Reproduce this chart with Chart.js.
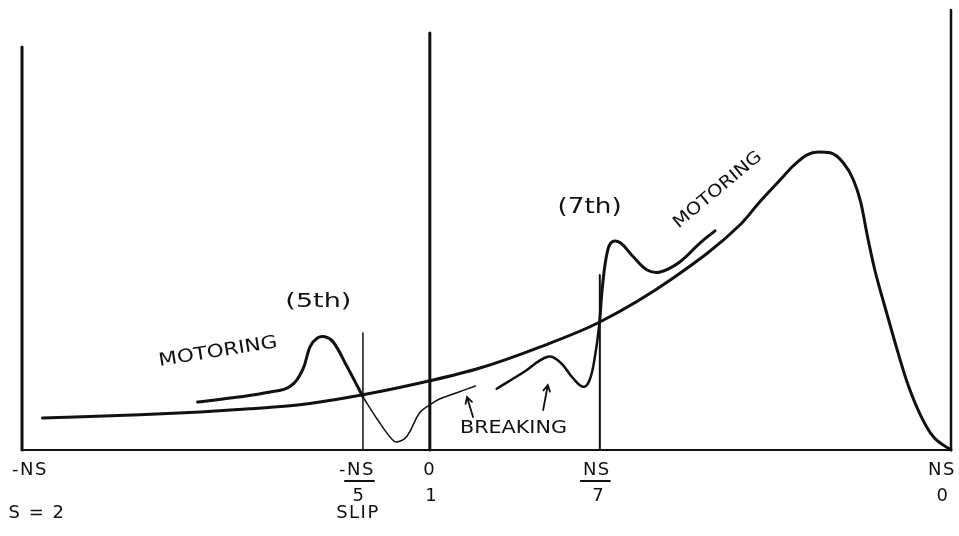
<!DOCTYPE html>
<html>
<head>
<meta charset="utf-8">
<script src="https://cdn.jsdelivr.net/npm/chart.js@4.4.1/dist/chart.umd.min.js"></script>
<style>
  html, body { margin: 0; padding: 0; background: #fff; }
  #wrap { width: 959px; height: 536px; position: relative; }
</style>
</head>
<body>
<div id="wrap"><canvas id="torque"></canvas></div>
<script>
  "use strict";

  // speed axis: 0 = -NS, 100 = +NS (the sketch is not to scale)
  var tickPos = [0, 36.7, 43.9, 62.2, 100];
  var tickTop = ["-NS", "-NS", "0", "NS", "NS"];
  var tickBottom = ["", "5", "1", "7", "0"];
  var lineTop = [100.75, 29.25, 104.25, 43.75, 110];

  // fundamental torque curve
  var mainX = [2.2, 12.7, 19.2, 24.5, 29.9, 36.7, 43.9, 49.3, 55.8, 62.2, 70.1, 77.3, 79.4, 81.6, 83.0, 84.5, 85.7, 87.0, 88.4, 89.5, 90.3, 91.0, 91.8, 92.8, 93.9, 95.3, 96.7, 98.1, 100];
  var mainY = [8, 8.8, 9.5, 10.3, 11.3, 13.8, 17.3, 20.5, 25.8, 32, 43, 56.3, 62, 67.5, 71, 73.8, 74.5, 74.3, 71.8, 67.5, 61.8, 53.5, 45, 36.5, 27.5, 16.8, 8.8, 3.3, 0];

  // 5th harmonic
  var fifthMotX = [18.9, 23.5, 26.7, 28.8, 30.2, 31.0, 31.8, 32.6, 33.5, 35.0, 36.7];
  var fifthMotY = [12, 13.3, 14.5, 15.8, 20, 25.8, 28, 28.3, 27, 20.8, 13.3];
  var fifthBrkX = [36.7, 37.1, 38.5, 39.9, 40.4, 41.4, 42.8, 43.9, 45.0, 46.8, 48.8];
  var fifthBrkY = [13.3, 11.8, 6.8, 2.5, 2, 3.3, 9.3, 11.3, 12.8, 14.3, 16];

  // 7th harmonic
  var seventhBrkX = [51.1, 53.9, 56.6, 57.9, 59.3, 60.4, 61.1, 61.7, 62.2];
  var seventhBrkY = [15.3, 19.3, 23.3, 22, 18, 15.8, 17.5, 23.8, 32.5];
  var seventhMotX = [62.2, 62.5, 63.0, 63.5, 64.4, 65.8, 67.3, 68.7, 70.8, 73.0, 74.6];
  var seventhMotY = [32.5, 41.3, 49.5, 52, 51.8, 48.3, 45, 44.5, 47, 51.8, 54.8];

  var ink = "#111";

  function pts(xs, ys) {
    return xs.map(function (x, i) {
      return { x: x, y: ys[i] };
    });
  }

  // smooth: 0 = straight, 1 = bezier, 2 = monotone
  function stroke(data, width, smooth) {
    return {
      data: data,
      borderColor: ink,
      borderWidth: width,
      pointRadius: 0,
      fill: false,
      clip: false,
      tension: smooth === 1 ? 0.4 : 0,
      cubicInterpolationMode: smooth === 2 ? "monotone" : "default",
      borderCapStyle: "round",
      borderJoinStyle: "round",
    };
  }

  var datasets = [];
  // axis frame and the reference speed lines
  datasets.push(stroke([{ x: 0, y: 0 }, { x: 100, y: 0 }], 2, 0));
  var lineWidths = [3, 1.5, 3, 2, 2.5];
  tickPos.forEach(function (p, i) {
    datasets.push(stroke([{ x: p, y: 0 }, { x: p, y: lineTop[i] }], lineWidths[i], 0));
  });
  datasets.push(stroke(pts(mainX, mainY), 3, 2));
  datasets.push(stroke(pts(fifthMotX, fifthMotY), 3, 1));
  datasets.push(stroke(pts(fifthBrkX, fifthBrkY), 1.5, 1));
  datasets.push(stroke(pts(seventhBrkX, seventhBrkY), 2.5, 1));
  datasets.push(stroke(pts(seventhMotX, seventhMotY), 3, 1));

  // notes written on the sketch (w = hand-written width in px)
  var notes = [
    { text: "(5th)", x: 31.9, y: 37, rot: 0, size: 20, w: 66 },
    { text: "MOTORING", x: 21.1, y: 24.5, rot: -9, size: 18, w: 120 },
    { text: "(7th)", x: 61.1, y: 60.5, rot: 0, size: 21, w: 64 },
    { text: "MOTORING", x: 74.9, y: 65, rot: -40, size: 17, w: 110 },
    { text: "BREAKING", x: 52.9, y: 5.3, rot: 0, size: 18, w: 107 },
  ];
  var arrows = [
    { x0: 48.55, y0: 8.25, x1: 47.9, y1: 13.25 },
    { x0: 56.1, y0: 10, x1: 56.6, y1: 16.25 },
  ];

  var sketchLabels = {
    id: "sketchLabels",
    afterDatasetsDraw: function (chart) {
      var ctx = chart.ctx;
      var xs = chart.scales.x;
      var ys = chart.scales.y;
      ctx.save();
      ctx.fillStyle = ink;
      ctx.strokeStyle = ink;
      ctx.textAlign = "center";
      ctx.textBaseline = "middle";

      notes.forEach(function (n) {
        ctx.save();
        ctx.font = n.size + "px 'DejaVu Sans'";
        var sx = n.w / ctx.measureText(n.text).width;
        ctx.translate(xs.getPixelForValue(n.x), ys.getPixelForValue(n.y));
        ctx.rotate((n.rot * Math.PI) / 180);
        ctx.scale(sx, 1);
        ctx.fillText(n.text, 0, 0);
        ctx.restore();
      });

      // little arrows pointing at the braking parts
      ctx.lineWidth = 1.8;
      ctx.lineCap = "round";
      arrows.forEach(function (a) {
        var px0 = xs.getPixelForValue(a.x0), py0 = ys.getPixelForValue(a.y0);
        var px1 = xs.getPixelForValue(a.x1), py1 = ys.getPixelForValue(a.y1);
        var ang = Math.atan2(py1 - py0, px1 - px0);
        ctx.beginPath();
        ctx.moveTo(px0, py0);
        ctx.lineTo(px1, py1);
        ctx.moveTo(px1 - 7 * Math.cos(ang - 0.5), py1 - 7 * Math.sin(ang - 0.5));
        ctx.lineTo(px1, py1);
        ctx.lineTo(px1 - 7 * Math.cos(ang + 0.5), py1 - 7 * Math.sin(ang + 0.5));
        ctx.stroke();
      });

      // speed / slip labels under the axis
      var base = ys.getPixelForValue(0);
      var shift = [7, -7, -1, -4, -10];
      ctx.font = "18px 'DejaVu Sans'";
      ctx.letterSpacing = "1.5px";
      ctx.lineWidth = 2.2;
      tickPos.forEach(function (p, i) {
        var cx = xs.getPixelForValue(p) + shift[i];
        ctx.fillText(tickTop[i], cx + 1, base + 20);
        if (tickBottom[i]) {
          ctx.fillText(tickBottom[i], cx + (i === 4 ? 2 : 3), base + 46);
        }
        if (i === 1 || i === 3) {
          var w = ctx.measureText("NS").width;
          var bx = i === 1 ? cx + ctx.measureText("-NS").width / 2 - w : cx - w / 2;
          ctx.beginPath();
          ctx.moveTo(bx - 1, base + 31);
          ctx.lineTo(bx + w, base + 31);
          ctx.stroke();
        }
      });
      ctx.fillText("SLIP", xs.getPixelForValue(tickPos[1]) - 5, base + 63);
      ctx.fillText("S = 2", 37, base + 63);
      ctx.restore();
    },
  };

  var ctxTorque = document.getElementById("torque").getContext("2d");
  var torqueChart = new Chart(ctxTorque, {
    type: "line",
    data: { datasets: datasets },
    options: {
      responsive: true,
      maintainAspectRatio: false,
      animation: false,
      parsing: false,
      layout: { padding: { left: 22, right: 8, top: 10, bottom: 86 } },
      plugins: {
        legend: { display: false },
        tooltip: { enabled: false },
      },
      scales: {
        x: { type: "linear", min: 0, max: 100, display: false },
        y: { type: "linear", min: 0, max: 110, display: false },
      },
    },
    plugins: [sketchLabels],
  });
</script>
</body>
</html>
